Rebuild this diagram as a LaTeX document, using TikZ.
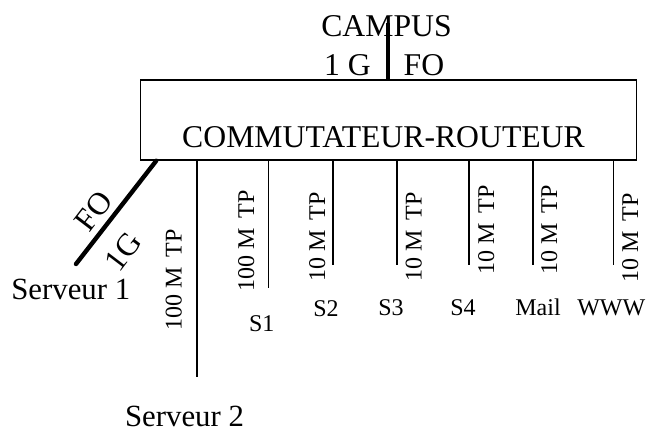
\documentclass[tikz,border=0pt]{standalone}
\usepackage{fontspec}
\setmainfont{Liberation Serif}
\begin{document}
\begin{tikzpicture}[x=0.5pt,y=-0.5pt,
  big/.style={inner sep=0pt, font=\fontsize{15.85}{18}\selectfont},
  small/.style={inner sep=0pt, font=\fontsize{12}{14}\selectfont},
  wire/.style={line width=0.8pt},
  fatwire/.style={line width=2.2pt, line cap=round},
  campuswire/.style={line width=2pt}]
\useasboundingbox (0,0) rectangle (646,429);

% switch box
\node[draw, line width=0.75pt, minimum width=248pt, minimum height=40pt, inner sep=0pt] (box) at (388.7,120) {};
\node[big, anchor=base] (boxlabel) at (383.5,147) {COMMUTATEUR-ROUTEUR};

% campus uplink
\node[big, anchor=base] (campus) at (386.5,36) {CAMPUS};
\node[big, anchor=base] (campusspeed) at (347.5,75) {1 G};
\node[big, anchor=base] (campusmedia) at (424,75) {FO};
\coordinate (campustop) at (388.3,23);
\draw[campuswire] (campustop) -- ([yshift=-1pt]box.north -| campustop);

% Serveur 1 (diagonal fibre link)
\coordinate (srv1end) at (76,264);
\draw[fatwire] ([xshift=8.15pt]box.south west) -- (srv1end);
\node[big, rotate=52.7] (srv1media) at (93.5,211) {FO};
\node[big, rotate=52.7] (srv1speed) at (123,251.5) {1G};
\node[big, anchor=base, font=\fontsize{15.4}{18}\selectfont] (srv1) at (70.8,299.3) {Serveur 1};

% Serveur 2
\coordinate (srv2end) at (196.7,376.7);
\draw[wire] (box.south -| srv2end) -- (srv2end);
\node[small, rotate=90, anchor=base] (srv2lab) at (181.7,280) {100 M\, TP};
\node[big, anchor=base, font=\fontsize{15.4}{18}\selectfont] (srv2) at (184.5,426) {Serveur 2};

% S1
\coordinate (s1end) at (268.3,288.3);
\draw[wire] (box.south -| s1end) -- (s1end);
\node[small, rotate=90, anchor=base] (s1lab) at (254,240.8) {100 M\, TP};
\node[small, anchor=base] (s1) at (261.7,331.7) {S1};

% S2
\coordinate (s2end) at (332.7,264.5);
\draw[wire] (box.south -| s2end) -- (s2end);
\node[small, rotate=90, anchor=base] (s2lab) at (325,237.3) {10 M\, TP};
\node[small, anchor=base] (s2) at (326,316) {S2};

% S3
\coordinate (s3end) at (396.7,265);
\draw[wire] (box.south -| s3end) -- (s3end);
\node[small, rotate=90, anchor=base] (s3lab) at (421.7,237.3) {10 M\, TP};
\node[small, anchor=base] (s3) at (391,315) {S3};

% S4
\coordinate (s4end) at (469,265);
\draw[wire] (box.south -| s4end) -- (s4end);
\node[small, rotate=90, anchor=base] (s4lab) at (494,230) {10 M\, TP};
\node[small, anchor=base] (s4) at (463,315) {S4};

% Mail
\coordinate (mailend) at (532.7,264.5);
\draw[wire] (box.south -| mailend) -- (mailend);
\node[small, rotate=90, anchor=base] (maillab) at (557,230) {10 M\, TP};
\node[small, anchor=base] (mail) at (538,315) {Mail};

% WWW
\coordinate (wwwend) at (613.3,264.5);
\draw[wire] (box.south -| wwwend) -- (wwwend);
\node[small, rotate=90, anchor=base] (wwwlab) at (638,237.7) {10 M\, TP};
\node[small, anchor=base] (www) at (611.3,315) {WWW};
\end{tikzpicture}
\end{document}
